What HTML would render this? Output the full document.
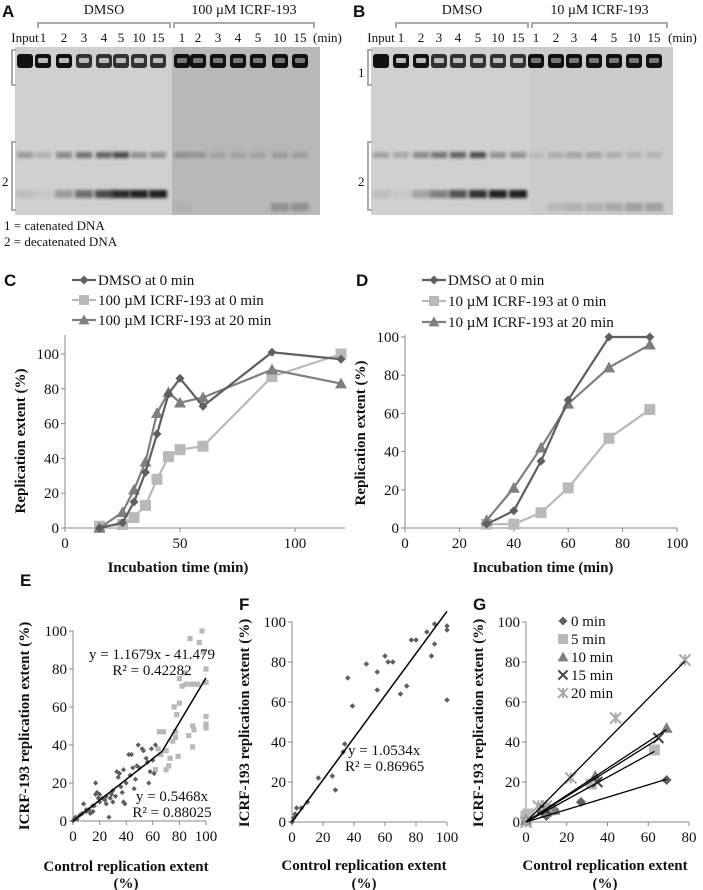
<!DOCTYPE html>
<html><head><meta charset="utf-8"><style>
html,body{margin:0;padding:0;background:#fff}
svg{display:block}
text{font-family:"Liberation Serif","Times New Roman",serif;fill:#111}
.pl{font-family:"Liberation Sans",sans-serif;font-weight:bold;font-size:17px}
.tk{font-size:15px}
.ti{font-size:15px;font-weight:bold}
.lg{font-size:15px}
</style></head><body>
<svg id="fig" width="703" height="890" viewBox="0 0 703 890" xmlns="http://www.w3.org/2000/svg">
<defs>
<filter id="bl" x="-50%" y="-100%" width="200%" height="300%"><feGaussianBlur stdDeviation="1.6"/></filter>
</defs>
<g id="gels"></g>
<g id="charts"></g>
</svg>
<script>
// ---------- gel data ----------
const gelAInputLanes = ["Input","1","2","3","4","5","10","15"];
const gelARightLanes = ["1","2","3","4","5","10","15"];
const gelAUpper = [0.35,0.2,0.45,0.6,0.7,0.85,0.4,0.4, 0.3,0.25,0.15,0.15,0.15,0.2,0.2];
const gelALower = [0.1,0.05,0.3,0.55,0.75,0.95,1,1, 0.05,0,0,0,0,0.25,0.25];
const gelBUpper = [0.3,0.25,0.45,0.6,0.7,0.85,0.4,0.4, 0.1,0.2,0.25,0.25,0.2,0.15,0.15];
const gelBLower = [0.1,0.05,0.25,0.45,0.7,0.9,1,1, 0,0.1,0.15,0.15,0.2,0.25,0.25];
// ---------- chart C ----------
const cTimes = [15,25,30,35,40,45,50,60,90,120];
const cDmso = [0,3,15,32,54,77,86,70,101,97];
const cIcrf0 = [1,2,6,13,28,41,45,47,87,100];
const cIcrf20 = [0,9,22,38,66,78,72,75,91,83];
const cYTicks = [0,20,40,60,80,100];
const cXTicks = [0,50,100];
// ---------- chart D ----------
const dTimes = [30,40,50,60,75,90];
const dDmso = [2,9,35,67,100,100];
const dIcrf0 = [2,2,8,21,47,62];
const dIcrf20 = [4,21,42,65,84,96];
const dXTicks = [0,20,40,60,80,100];
// ---------- chart E ----------
const eDarkX = [0,1,2,3,5,7,8,10,12,13,15,16,17,17,18,19,20,22,24,25,27,28,29,30,32,33,34,36,37,38,38,40,42,44,45,46,47,48,49,50,52,53,55,57,58,59,60,61,62,35,25,15,10,20,43,56,30,39];
const eDarkY = [0,1,2,1,3,4,9,5,6,4,5,8,20,14,15,12,10,12,11,9,2,12,14,16,13,26,23,18,15,10,27,20,35,35,28,17,22,29,40,28,38,37,33,20,26,38,32,25,40,25,13,8,6,14,24,31,10,9];
const eLightX = [62,64,65,66,68,70,70,72,73,75,76,77,77,78,79,80,80,82,84,85,87,88,89,90,90,91,92,94,95,97,98,99,100,100,100,100,100];
const eLightY = [27,38,47,35,47,27,37,29,33,42,60,44,47,56,34,62,75,71,78,72,45,96,72,39,50,48,72,72,94,100,89,73,80,55,51,49,73];
const eSlope1 = 0.5468, eBreak = 67, eSlope2 = 1.1679, eIcpt2 = -41.479;
const pctTicks = [0,20,40,60,80,100];
// ---------- chart F ----------
const fX = [0,1,2,3,6,10,17,26,28,33,34,36,39,48,55,55,60,62,65,70,74,77,80,87,90,92,92,100,100,100];
const fY = [0,2,4,7,7,10,22,23,16,35,39,72,58,79,75,66,83,80,80,64,68,91,91,95,83,99,89,98,96,61];
const fSlope = 1.0534;
// ---------- chart G ----------
const gSeries = ["0 min","5 min","10 min","15 min","20 min"];
const gX0 = [0,10,14,27,69], gY0 = [0,3,6,10,21];
const gX5 = [0,1,12,32,63], gY5 = [3,4,6,19,36];
const gX10 = [0,10,14,34,69], gY10 = [1,5,6,23,47];
const gX15 = [0,8,10,35,65], gY15 = [0,7,6,20,42];
const gX20 = [0,6,10,22,44,78], gY20 = [0,8,8,22,52,81];
const gSlopes = [0.31,0.56,0.67,0.64,1.03];
const gXTicks = [0,20,40,60,80];

const NS = "http://www.w3.org/2000/svg";
function el(tag, attrs, parent, txt){
  const e = document.createElementNS(NS, tag);
  for (const k in attrs) e.setAttribute(k, attrs[k]);
  if (txt !== undefined) e.textContent = txt;
  parent.appendChild(e);
  return e;
}
function lin(d0,d1,r0,r1){ return v => r0 + (v-d0)*(r1-r0)/(d1-d0); }

// ================= GELS =================
const G = document.getElementById('gels');
function gel(off, lanesL, lanesR, up, lo, label, drug, gx0, gx1, split, darkR, lblXs, rightX){
  const g = el('g', {}, G);
  
  
  const pl = el('text', {x: off + 2, y: 17, class: 'pl'}, g, label);
  
  
  el('rect', {x: gx0, y: 47, width: split - gx0, height: 168, fill: '#d0d0d0'}, g);
  el('rect', {x: split, y: 47, width: gx1 - split, height: 168, fill: darkR}, g);
  const xs = lblXs;
  const lanes = lanesL.concat(lanesR);
  xs.forEach((x, i) => {
    const t = el('text', {x: x, y: 42, 'text-anchor': 'middle', style: 'font-size:13px'}, g, lanes[i]);
    
    
    const w = el('rect', {x: x - 8, y: 54, width: 16, height: 14, rx: 3, fill: i < 8 && i > 2 ? '#333' : '#111'}, g);
    
    
    if (i > 0) el('rect', {x: x - 5, y: 58, width: 10, height: 5, rx: 1.5, fill: i < 8 ? '#bbb' : '#777'}, g);
    const u = el('rect', {x: x - 8, y: 152, width: 16, height: 6, fill: '#000', opacity: up[i] * 0.75, filter: 'url(#bl)'}, g);
    
    
    const l = el('rect', {x: x - 9, y: i < 8 ? 190 : 203, width: 18, height: 8, fill: '#000', opacity: lo[i] * 0.85, filter: 'url(#bl)'}, g);
    
    
  });
  el('text', {x: rightX, y: 42, style: 'font-size:13px'}, g, '(min)');
  const bx = [xs[1]-5, split - 2, split + 2, gx1 - 6];
  el('path', {d: `M${bx[0]},28 V23 H${bx[1]} V28 M${bx[2]},28 V23 H${bx[3]} V28`, stroke: '#aaa', 'stroke-width': 2, fill: 'none'}, g);
  el('text', {x: (bx[0]+bx[1])/2, y: 14, 'text-anchor': 'middle', style: 'font-size:14px'}, g, 'DMSO');
  el('text', {x: (bx[2]+bx[3])/2, y: 14, 'text-anchor': 'middle', style: 'font-size:14px'}, g, drug);
  const sx = gx0 - 3;
  el('path', {d: `M${sx+4},50 H${sx} V85 H${sx+4} M${sx+4},142 H${sx} V210 H${sx+4}`, stroke: '#aaa', 'stroke-width': 2, fill: 'none'}, g);
  if (label === 'B') el('text', {x: sx - 10, y: 77, style: 'font-size:13px'}, g, '1');
  el('text', {x: sx - 10, y: 186, style: 'font-size:13px'}, g, '2');
}
gel(0, gelAInputLanes, gelARightLanes, gelAUpper, gelALower, 'A', '100 µM ICRF-193', 15, 320, 172, '#b8b8b8',
    [25,43,64,84,104,121,139,158,182,198,218,238,258,280,300], 313);
gel(351, gelAInputLanes, gelARightLanes, gelBUpper, gelBLower, 'B', '10 µM ICRF-193', 371, 673, 530, '#cbcbcb',
    [381,401,421,439,458,478,498,518,536,556,574,594,614,634,654], 668);
const n1 = el('text', {x: 4, y: 230, style: 'font-size:13px'}, G, '1 = catenated DNA');


const n2 = el('text', {x: 4, y: 246, style: 'font-size:13px'}, G, '2 = decatenated DNA');



// ================= CHARTS =================
const C = document.getElementById('charts');
function marker(parent, type, x, y, s, color){
  let m;
  if (type === 'd') m = el('path', {d: `M${x},${y-s} L${x+s},${y} L${x},${y+s} L${x-s},${y} Z`, fill: color}, parent);
  else if (type === 's') m = el('rect', {x: x-s, y: y-s, width: 2*s, height: 2*s, fill: color}, parent);
  else if (type === 't') m = el('path', {d: `M${x},${y-s} L${x+s},${y+s*0.8} L${x-s},${y+s*0.8} Z`, fill: color}, parent);
  else if (type === 'x') m = el('path', {d: `M${x-s},${y-s} L${x+s},${y+s} M${x+s},${y-s} L${x-s},${y+s}`, stroke: color, 'stroke-width': 2, fill: 'none'}, parent);
  else m = el('path', {d: `M${x-s},${y-s} L${x+s},${y+s} M${x+s},${y-s} L${x-s},${y+s} M${x},${y-s} L${x},${y+s}`, stroke: color, 'stroke-width': 2, fill: 'none'}, parent);
  return m;
}
function axes(g, xs, ys, xTicks, yTicks, xEnd, yTop, name){
  const x0 = xs(0), y0 = ys(0);
  const ax = el('path', {d: `M${x0},${yTop} V${y0} H${xEnd}`, stroke: '#888', 'stroke-width': 1, fill: 'none'}, g);
  
  
  yTicks.forEach(v => {
    el('line', {x1: x0 - 4, x2: x0, y1: ys(v), y2: ys(v), stroke: '#888'}, g);
    const t = el('text', {x: x0 - 6, y: ys(v) + 5, 'text-anchor': 'end', class: 'tk'}, g, v);
    
    
  });
  xTicks.forEach(v => {
    el('line', {x1: xs(v), x2: xs(v), y1: y0, y2: y0 + 4, stroke: '#888'}, g);
    const t = el('text', {x: xs(v), y: y0 + 20, 'text-anchor': 'middle', class: 'tk'}, g, v);
    
    
  });
}
function ytitle(g, x, y, txt){
  const t = el('text', {x: x, y: y, class: 'ti', 'text-anchor': 'middle', transform: `rotate(-90 ${x} ${y})`}, g, txt);
  
  
}
function xtitle(g, x, y, txt){
  const t = el('text', {x: x, y: y, class: 'ti', 'text-anchor': 'middle'}, g, txt);
  
  
}
function plabel(g, x, y, L){
  const t = el('text', {x: x, y: y, class: 'pl'}, g, L);
  
  
}
function series(g, xs, ys, X, Y, type, s, color, name){
  const sg = el('g', {}, g);
  
  
  el('polyline', {points: X.map((v,i) => xs(v) + ',' + ys(Y[i])).join(' '), stroke: color, 'stroke-width': 2.2, fill: 'none'}, sg);
  X.forEach((v,i) => {
    const m = marker(sg, type, xs(v), ys(Y[i]), s, color);
    
    
  });
}
function legendRow(g, x, y, type, s, color, txt, withLine){
  const lg = el('g', {}, g);
  
  
  if (withLine) el('line', {x1: x, x2: x + 24, y1: y, y2: y, stroke: color, 'stroke-width': 2.2}, lg);
  marker(lg, type, withLine ? x + 12 : x, y, s, color);
  el('text', {x: withLine ? x + 26 : x + 8, y: y + 5, class: 'lg'}, lg, txt);
}
const cDark = '#5f5f5f', cLight = '#b9b9b9', cMid = '#7f7f7f';

// ---- C ----
(function(){
  const g = el('g', {}, C);
  
  
  const xs = lin(0, 100, 65, 295), ys = lin(0, 100, 528, 354);
  plabel(g, 4, 286, 'C');
  axes(g, xs, ys, cXTicks, cYTicks, 345, 335, 'c');
  ytitle(g, 25, 441, 'Replication extent (%)');
  xtitle(g, 178, 572, 'Incubation time (min)');
  series(g, xs, ys, cTimes, cIcrf0, 's', 5.5, cLight, 'series-icrf-0min');
  series(g, xs, ys, cTimes, cIcrf20, 't', 6, cMid, 'series-icrf-20min');
  series(g, xs, ys, cTimes, cDmso, 'd', 4.5, cDark, 'series-dmso');
  legendRow(g, 72, 280, 'd', 4.5, cDark, 'DMSO at 0 min', true);
  legendRow(g, 72, 300, 's', 5, cLight, '100 µM ICRF-193 at 0 min', true);
  legendRow(g, 72, 320, 't', 5.5, cMid, '100 µM ICRF-193 at 20 min', true);
})();
// ---- D ----
(function(){
  const g = el('g', {}, C);
  
  
  const xs = lin(0, 100, 405, 677), ys = lin(0, 100, 528, 337);
  plabel(g, 356, 286, 'D');
  axes(g, xs, ys, dXTicks, cYTicks, 677, 335, 'd');
  ytitle(g, 365, 433, 'Replication extent (%)');
  xtitle(g, 543, 572, 'Incubation time (min)');
  series(g, xs, ys, dTimes, dIcrf0, 's', 5.5, cLight, 'series-icrf-0min');
  series(g, xs, ys, dTimes, dIcrf20, 't', 6, cMid, 'series-icrf-20min');
  series(g, xs, ys, dTimes, dDmso, 'd', 4.5, cDark, 'series-dmso');
  legendRow(g, 422, 280, 'd', 4.5, cDark, 'DMSO at 0 min', true);
  legendRow(g, 422, 301, 's', 5, cLight, '10 µM ICRF-193 at 0 min', true);
  legendRow(g, 422, 322, 't', 5.5, cMid, '10 µM ICRF-193 at 20 min', true);
})();
// ---- E ----
(function(){
  const g = el('g', {}, C);
  
  
  const xs = lin(0, 100, 73, 206), ys = lin(0, 100, 821, 631);
  plabel(g, 20, 586, 'E');
  axes(g, xs, ys, pctTicks, pctTicks, 206, 631, 'e');
  ytitle(g, 29, 726, 'ICRF-193 replication extent (%)');
  xtitle(g, 126, 871, 'Control replication extent');
  xtitle(g, 126, 888, '(%)');
  eLightX.forEach((v,i) => {
    const m = marker(g, 's', xs(v), ys(eLightY[i]), 2.6, cLight);
    
    
  });
  eDarkX.forEach((v,i) => {
    const m = marker(g, 'd', xs(v), ys(eDarkY[i]), 2.6, cDark);
    
    
  });
  const tl = el('polyline', {points: `${xs(0)},${ys(0)} ${xs(eBreak)},${ys(eSlope1*eBreak)} ${xs(100)},${ys(eSlope2*100+eIcpt2)}`, stroke: '#000', 'stroke-width': 1.5, fill: 'none'}, g);
  
  
  el('text', {x: 152, y: 659, 'text-anchor': 'middle', class: 'lg'}, g, 'y = 1.1679x - 41.479');
  el('text', {x: 152, y: 675, 'text-anchor': 'middle', class: 'lg'}, g, 'R² = 0.42282');
  el('text', {x: 172, y: 801, 'text-anchor': 'middle', class: 'lg'}, g, 'y = 0.5468x');
  el('text', {x: 172, y: 817, 'text-anchor': 'middle', class: 'lg'}, g, 'R² = 0.88025');
})();
// ---- F ----
(function(){
  const g = el('g', {}, C);
  
  
  const xs = lin(0, 100, 292, 447), ys = lin(0, 100, 822, 622);
  plabel(g, 239, 610, 'F');
  axes(g, xs, ys, pctTicks, pctTicks, 447, 622, 'f');
  ytitle(g, 249, 723, 'ICRF-193 replication extent (%)');
  xtitle(g, 364, 870, 'Control replication extent');
  xtitle(g, 364, 888, '(%)');
  fX.forEach((v,i) => {
    const m = marker(g, 'd', xs(v), ys(fY[i]), 2.8, cDark);
    
    
  });
  const tl = el('line', {x1: xs(0), y1: ys(0), x2: xs(100), y2: ys(fSlope*100), stroke: '#000', 'stroke-width': 1.5}, g);
  
  
  el('text', {x: 348, y: 755, class: 'lg'}, g, 'y = 1.0534x');
  el('text', {x: 345, y: 771, class: 'lg'}, g, 'R² = 0.86965');
})();
// ---- G ----
(function(){
  const g = el('g', {}, C);
  
  
  const xs = lin(0, 80, 526, 689), ys = lin(0, 100, 822, 622);
  plabel(g, 473, 610, 'G');
  axes(g, xs, ys, gXTicks, pctTicks, 689, 622, 'g');
  ytitle(g, 483, 723, 'ICRF-193 replication extent (%)');
  xtitle(g, 605, 870, 'Control replication extent');
  xtitle(g, 605, 888, '(%)');
  const sets = [[gX0,gY0,'d',5,cDark],[gX5,gY5,'s',5.5,cLight],[gX10,gY10,'t',6,cMid],[gX15,gY15,'x',5,'#444'],[gX20,gY20,'a',5.5,'#aaa']];
  sets.forEach((s, k) => {
    const sg = el('g', {}, g);
    
    
    s[0].forEach((v,i) => {
      const m = marker(sg, s[2], xs(v), ys(s[1][i]), s[3], s[4]);
      
      
    });
  });
  sets.forEach((s, k) => {
    const xm = s[0][s[0].length - 1];
    const tl = el('line', {x1: xs(0), y1: ys(0), x2: xs(xm), y2: ys(gSlopes[k]*xm), stroke: '#000', 'stroke-width': 1.3}, g);
    
    
  });
  sets.forEach((s, k) => legendRow(g, 563, 621 + k*18, s[2], s[3]*0.9, s[4], gSeries[k], false));
})();
</script>
</body></html>
